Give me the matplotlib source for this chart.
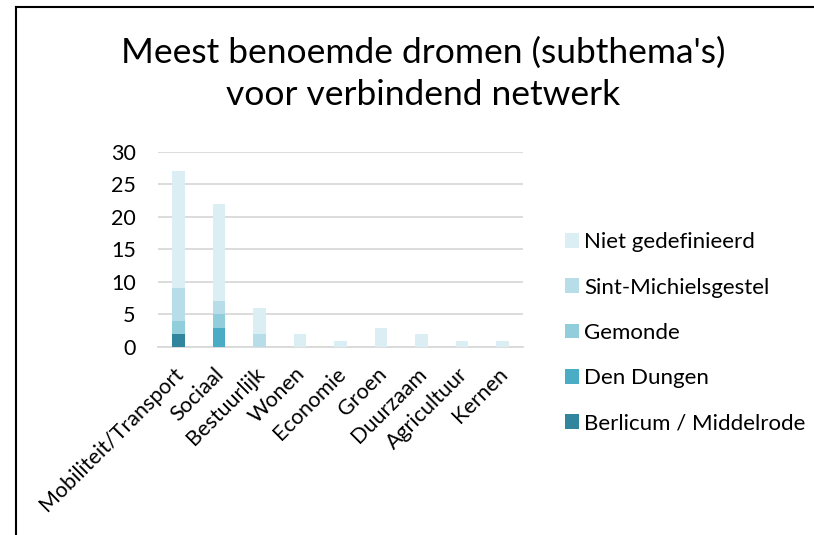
import matplotlib
matplotlib.use("Agg")
import matplotlib.pyplot as plt
from matplotlib.lines import Line2D
from matplotlib.transforms import ScaledTranslation
import numpy as np

plt.rcParams['font.family'] = ['Lato', 'DejaVu Sans']

categories = ["Mobiliteit/Transport", "Sociaal", "Bestuurlijk", "Wonen", "Economie",
              "Groen", "Duurzaam", "Agricultuur", "Kernen"]

# stacked from bottom to top
berlicum = [2, 0, 0, 0, 0, 0, 0, 0, 0]
den_dungen = [0, 3, 0, 0, 0, 0, 0, 0, 0]
gemonde = [2, 2, 0, 0, 0, 0, 0, 0, 0]
sint_michielsgestel = [5, 2, 2, 0, 0, 0, 0, 0, 0]
niet_gedefinieerd = [18, 15, 4, 2, 1, 3, 2, 1, 1]

series = [
    ("Berlicum / Middelrode", berlicum, "#31859C"),
    ("Den Dungen", den_dungen, "#4BACC6"),
    ("Gemonde", gemonde, "#92CDDC"),
    ("Sint-Michielsgestel", sint_michielsgestel, "#B7DEE8"),
    ("Niet gedefinieerd", niet_gedefinieerd, "#DAEEF3"),
]

fig = plt.figure(figsize=(8.14, 5.35), dpi=100)
ax = fig.add_axes([0.1941, 0.3514, 0.4484, 0.3645])

x = np.arange(len(categories))
bottom = np.zeros(len(categories))
handles = []
for name, vals, col in series:
    b = ax.bar(x, vals, width=0.31, bottom=bottom, color=col, label=name, zorder=3)
    handles.append(b)
    bottom += np.array(vals)

ax.set_xlim(-0.5, len(categories) - 0.5)
ax.set_ylim(0, 30)
ax.set_yticks([0, 5, 10, 15, 20, 25, 30])
ax.yaxis.grid(True, color="#D9D9D9", linewidth=1.3, zorder=0)
ax.set_axisbelow(True)
for s in ["top", "right", "left"]:
    ax.spines[s].set_visible(False)
ax.spines["bottom"].set_color("#D9D9D9")
ax.spines["bottom"].set_linewidth(1.3)
ax.tick_params(axis="both", length=0, colors="#000000")
ax.tick_params(axis="y", pad=16, labelsize=15.5)
ax.set_xticks(x)
ax.set_xticklabels(categories, rotation=45, ha="right", rotation_mode="anchor", fontsize=15.5)
off = ScaledTranslation(-5 / 100, -12 / 100, fig.dpi_scale_trans)
for lbl in ax.get_xticklabels():
    lbl.set_transform(lbl.get_transform() + off)

fig.text(0.52, 0.862, "Meest benoemde dromen (subthema's)\nvoor verbindend netwerk",
         ha="center", va="center", fontsize=25.5, linespacing=1.36)

leg = fig.legend(handles[::-1], [s[0] for s in series][::-1],
                 loc="upper left", bbox_to_anchor=(0.694, 0.566),
                 frameon=False, fontsize=16, labelspacing=1.14,
                 borderpad=0, borderaxespad=0,
                 handlelength=0.63, handleheight=0.63, handletextpad=0.23)

# chart border (cropped at right and bottom)
fig.add_artist(Line2D([16 / 814, 16 / 814], [0, 1 - 7 / 535], color="black", linewidth=1.5))
fig.add_artist(Line2D([16 / 814, 1], [1 - 7 / 535, 1 - 7 / 535], color="black", linewidth=1.5))

fig.savefig("out.png", dpi=100)
